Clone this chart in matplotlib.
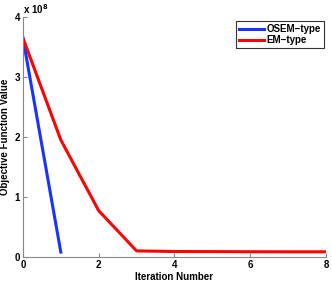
import numpy as np
import matplotlib.pyplot as plt

plt.rcParams['font.family'] = ['Liberation Sans', 'DejaVu Sans']
plt.rcParams['font.weight'] = 'bold'

osem_iter = [0, 1]
osem_val = [3.65e8, 0.08e8]
em_iter = [0, 1, 2, 3, 4, 5, 6, 7, 8]
em_val = [3.65e8, 1.95e8, 0.77e8, 0.10e8, 0.09e8, 0.088e8, 0.086e8, 0.085e8, 0.085e8]

fig = plt.figure(figsize=(3.32, 2.82), dpi=100)
ax = fig.add_axes([0.069, 0.089, 0.913, 0.851])

ax.plot(osem_iter, osem_val, color='#1a33ff', lw=2.2, label='OSEM\u2212type')
ax.plot(em_iter, em_val, color='#ff0000', lw=2.2, label='EM\u2212type')

ax.set_xlim(0, 8)
ax.set_ylim(0, 4e8)
ax.set_xticks([0, 2, 4, 6, 8])
ax.set_yticks([0, 1e8, 2e8, 3e8, 4e8])
ax.set_yticklabels(['0', '1', '2', '3', '4'])
ax.text(0.0, 1.005, r'x 10$^{8}$', transform=ax.transAxes, fontsize=7,
        fontweight='bold', va='bottom', ha='left')

for s in ['top', 'right']:
    ax.spines[s].set_visible(False)
for s in ['left', 'bottom']:
    ax.spines[s].set_color('#888888')
    ax.spines[s].set_linewidth(0.8)
ax.tick_params(direction='in', length=3, labelsize=7, color='#888888', pad=2)
for lab in ax.get_xticklabels() + ax.get_yticklabels():
    lab.set_fontweight('bold')

ax.set_xlabel('Iteration Number', fontsize=7, fontweight='bold', labelpad=2)
ax.set_ylabel('Objective Function Value', fontsize=7, fontweight='bold', labelpad=3)

leg = ax.legend(loc='upper right', bbox_to_anchor=(1.0, 0.99), fontsize=7,
                frameon=True, fancybox=False, borderpad=0.3, handlelength=2.6,
                handletextpad=0.3, labelspacing=0.1, borderaxespad=0.2)
leg.get_frame().set_edgecolor('black')
leg.get_frame().set_linewidth(0.8)
for t in leg.get_texts():
    t.set_fontweight('bold')

fig.savefig('out.png', dpi=100)
